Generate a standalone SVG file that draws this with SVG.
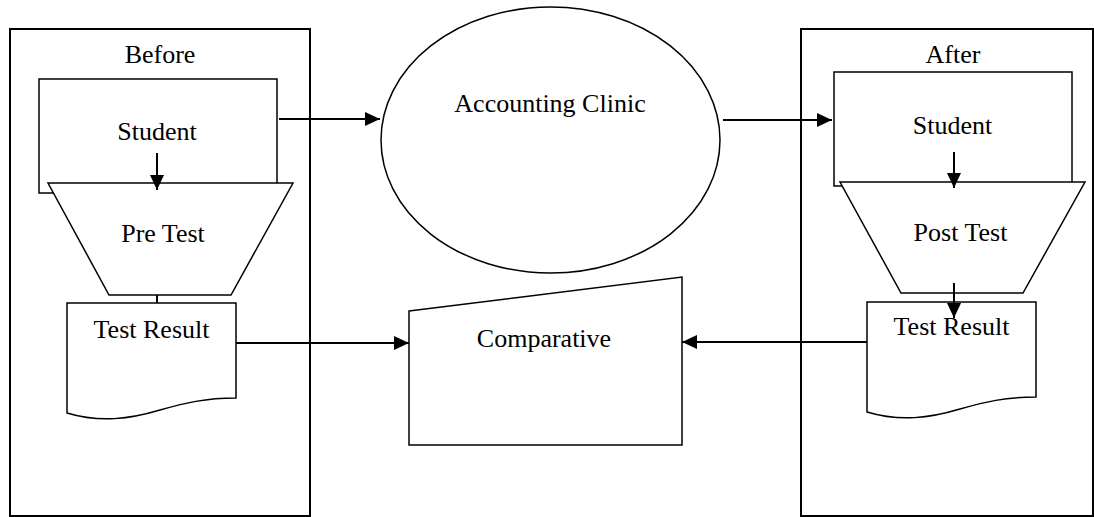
<svg xmlns="http://www.w3.org/2000/svg" width="1094" height="517" viewBox="0 0 1094 517">
<defs>
<style>
.frame{fill:none;stroke:#000;stroke-width:2}
.shape{fill:#fff;stroke:#000;stroke-width:1.5}
.conn{fill:none;stroke:#000;stroke-width:2}
text{font-family:"Liberation Serif","Times New Roman",serif;font-size:26px;fill:#000;text-anchor:middle}
</style>
<marker id="arr" markerUnits="userSpaceOnUse" markerWidth="15" markerHeight="14" viewBox="0 0 15 14" refX="15" refY="7" orient="auto">
<path d="M0,0 L15,7 L0,14 Z" fill="#000"/>
</marker>
</defs>
<rect width="1094" height="517" fill="#fff"/>
<g id="before-panel">
<rect class="frame" x="10" y="29" width="300" height="487"/>
<text x="160" y="63">Before</text>
</g>
<g id="after-panel">
<rect class="frame" x="801" y="29" width="292" height="487"/>
<text x="953" y="63">After</text>
</g>
<g id="student-before">
<rect class="shape" x="39" y="79" width="238" height="114"/>
<text x="157" y="140">Student</text>
</g>
<g id="pretest">
<polygon class="shape" points="48,183 293,183 231,295 109,295"/>
<text x="163" y="242">Pre Test</text>
</g>
<g id="result-before">
<path class="shape" d="M67,303 H236 V398 C205,398 185,403 160,410 C130,419 100,423 67,413 Z"/>
<text x="151.5" y="338">Test Result</text>
</g>
<g id="clinic">
<ellipse class="shape" cx="550.5" cy="140" rx="169.5" ry="133"/>
<text x="550" y="112">Accounting Clinic</text>
</g>
<g id="comparative">
<polygon class="shape" points="409,311 682,277 682,445 409,445"/>
<text x="544" y="347">Comparative</text>
</g>
<g id="student-after">
<rect class="shape" x="834" y="72" width="238" height="114"/>
<text x="952.5" y="134">Student</text>
</g>
<g id="posttest">
<polygon class="shape" points="840,182 1085,182 1023,293 901,293"/>
<text x="960.5" y="241">Post Test</text>
</g>
<g id="result-after">
<path class="shape" d="M867,302 H1036 V397 C1005,397 985,402 960,409 C930,418 900,422 867,412 Z"/>
<text x="951.5" y="335">Test Result</text>
</g>
<g id="connectors">
<line class="conn" x1="279" y1="119" x2="380" y2="119" marker-end="url(#arr)"/>
<line class="conn" x1="723" y1="120" x2="832" y2="120" marker-end="url(#arr)"/>
<line class="conn" x1="157" y1="153" x2="157" y2="190" marker-end="url(#arr)"/>
<line class="conn" x1="157" y1="295" x2="157" y2="303"/>
<line class="conn" x1="954" y1="152" x2="954" y2="188" marker-end="url(#arr)"/>
<line class="conn" x1="954" y1="283" x2="954" y2="318" marker-end="url(#arr)"/>
<line class="conn" x1="236" y1="343" x2="409" y2="343" marker-end="url(#arr)"/>
<line class="conn" x1="867" y1="342" x2="682" y2="342" marker-end="url(#arr)"/>
</g>
</svg>
